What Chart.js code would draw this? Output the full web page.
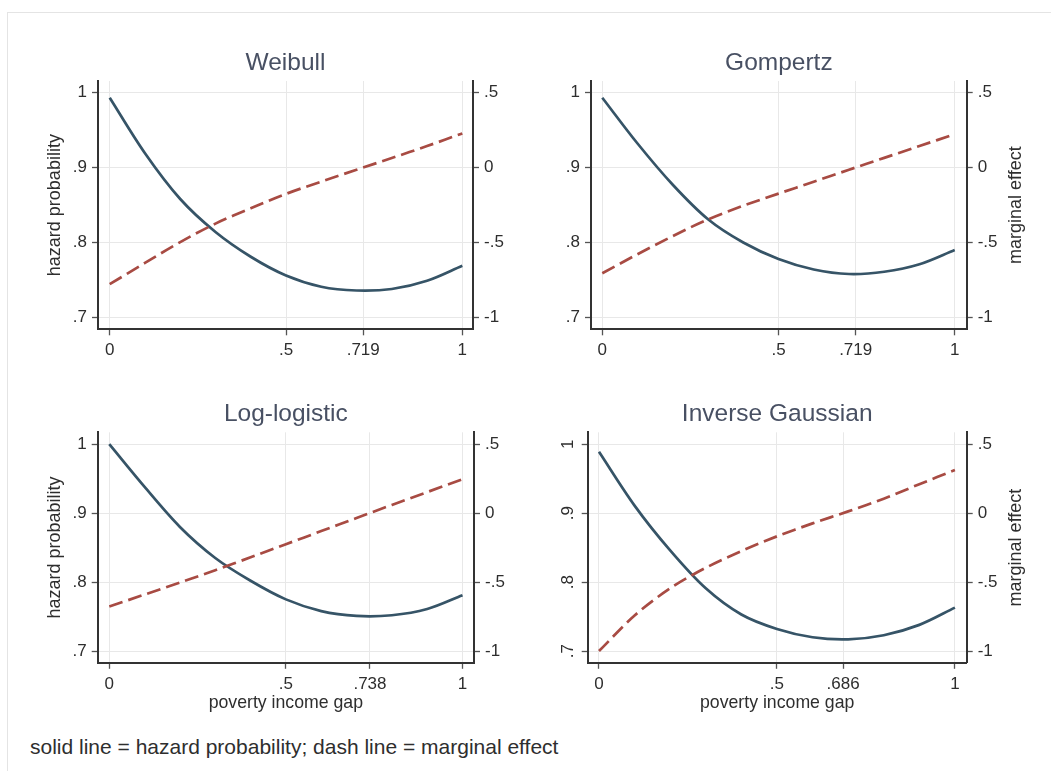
<!DOCTYPE html>
<html>
<head>
<meta charset="utf-8">
<script src="https://cdn.jsdelivr.net/npm/chart.js@4.4.1/dist/chart.umd.min.js"></script>
<style>
  html, body { margin: 0; padding: 0; background: #ffffff; width: 1051px; height: 771px; overflow: hidden;
    font-family: "Liberation Sans", Arial, sans-serif; }
  #frame { position: absolute; left: 7px; top: 12px; width: 1100px; height: 800px;
    border-left: 1px solid #e4e4e4; border-top: 1px solid #e4e4e4; }
  canvas { position: absolute; }
  #note { position: absolute; left: 30px; top: 735px; font-size: 21px; line-height: 24px; color: #2e2e2e; white-space: nowrap; }
</style>
</head>
<body>
<div id="frame"></div>
<canvas id="c1"></canvas>
<canvas id="c2"></canvas>
<canvas id="c3"></canvas>
<canvas id="c4"></canvas>
<div id="note">solid line = hazard probability; dash line = marginal effect</div>
<script>
// ---------------- data ----------------
const gap = [0, 0.1, 0.2, 0.3, 0.4, 0.5, 0.6, 0.7, 0.8, 0.9, 1];

const weibullHazard   = [0.993, 0.919, 0.858, 0.814, 0.781, 0.756, 0.741, 0.736, 0.738, 0.749, 0.769];
const weibullMarginal = [-0.778, -0.636, -0.497, -0.374, -0.272, -0.176, -0.094, -0.015, 0.063, 0.143, 0.227];

const gompertzHazard   = [0.993, 0.932, 0.877, 0.831, 0.800, 0.778, 0.764, 0.758, 0.761, 0.771, 0.790];
const gompertzMarginal = [-0.705, -0.578, -0.457, -0.346, -0.255, -0.174, -0.095, -0.015, 0.064, 0.143, 0.222];

const loglogHazard   = [1.000, 0.938, 0.880, 0.835, 0.802, 0.775, 0.758, 0.751, 0.752, 0.761, 0.781];
const loglogMarginal = [-0.677, -0.590, -0.503, -0.414, -0.320, -0.225, -0.130, -0.035, 0.060, 0.153, 0.246];

const invgaussHazard   = [0.989, 0.911, 0.846, 0.791, 0.753, 0.732, 0.720, 0.717, 0.723, 0.738, 0.763];
const invgaussMarginal = [-1.000, -0.742, -0.545, -0.396, -0.275, -0.168, -0.074, 0.013, 0.105, 0.210, 0.313];

const panelTitles = ['Weibull', 'Gompertz', 'Log-logistic', 'Inverse Gaussian'];

const weibullXTicks  = [0, 0.5, 0.719, 1];
const weibullXLabels = ['0', '.5', '.719', '1'];
const gompertzXTicks  = [0, 0.5, 0.719, 1];
const gompertzXLabels = ['0', '.5', '.719', '1'];
const loglogXTicks  = [0, 0.5, 0.738, 1];
const loglogXLabels = ['0', '.5', '.738', '1'];
const invgaussXTicks  = [0, 0.5, 0.686, 1];
const invgaussXLabels = ['0', '.5', '.686', '1'];

const hazardTicks  = [0.7, 0.8, 0.9, 1];
const hazardLabels = ['.7', '.8', '.9', '1'];
const marginalTicks  = [-1, -0.5, 0, 0.5];
const marginalLabels = ['-1', '-.5', '0', '.5'];

const xAxisTitle = 'poverty income gap';
const leftAxisTitle = 'hazard probability';
const rightAxisTitle = 'marginal effect';

// ---------------- styles ----------------
const FONT = '"Liberation Sans", Arial, sans-serif';
const HAZ_COLOR = '#365467';
const MAR_COLOR = '#a84b43';
const GRID = '#e8e8e8';
const AXIS = '#333333';
const TICKC = '#555555';
const TEXT = '#2e2e2e';
const TITLE_COLOR = '#485063';

const panels = [
  { id: 'c1', title: panelTitles[0], haz: weibullHazard, mar: weibullMarginal, xt: weibullXTicks, xl: weibullXLabels,
    left: 0, top: 20, w: 530, h: 355, yLW: 98, yRW: 57, xH: 45.7, tPadTop: 28.8, tPadBot: 2.8,
    xMin: -0.0332, xMax: 1.0303, yMin: 0.6843, yMax: 1.0153,
    leftTitle: true, rightTitle: false, xTitle: false, rotateLeft: false },
  { id: 'c2', title: panelTitles[1], haz: gompertzHazard, mar: gompertzMarginal, xt: gompertzXTicks, xl: gompertzXLabels,
    left: 530, top: 20, w: 521, h: 355, yLW: 61, yRW: 84.3, xH: 45.7, tPadTop: 28.8, tPadBot: 2.8,
    xMin: -0.032, xMax: 1.034, yMin: 0.6843, yMax: 1.0153,
    leftTitle: false, rightTitle: true, xTitle: false, rotateLeft: false },
  { id: 'c3', title: panelTitles[2], haz: loglogHazard, mar: loglogMarginal, xt: loglogXTicks, xl: loglogXLabels,
    left: 0, top: 375, w: 530, h: 350, yLW: 97.7, yRW: 56, xH: 62.2, tPadTop: 24.8, tPadBot: 3.1,
    xMin: -0.0328, xMax: 1.0325, yMin: 0.683, yMax: 1.0173,
    leftTitle: true, rightTitle: false, xTitle: true, rotateLeft: false },
  { id: 'c4', title: panelTitles[3], haz: invgaussHazard, mar: invgaussMarginal, xt: invgaussXTicks, xl: invgaussXLabels,
    left: 530, top: 375, w: 521, h: 350, yLW: 57.7, yRW: 84.3, xH: 62.2, tPadTop: 24.8, tPadBot: 3.1,
    xMin: -0.0317, xMax: 1.0331, yMin: 0.683, yMax: 1.0173,
    leftTitle: false, rightTitle: true, xTitle: true, rotateLeft: true }
];

function toPoints(ys) { return gap.map((x, i) => ({ x: x, y: ys[i] })); }
function fixedTicks(vals) { return function (scale) { scale.ticks = vals.map(v => ({ value: v })); }; }

const rightTitlePlugin = {
  id: 'rightTitle',
  afterDraw(chart, args, opts) {
    if (!opts || !opts.display) return;
    const s = chart.scales.yR;
    const ctx = chart.ctx;
    ctx.save();
    ctx.translate(s.left + opts.offset, (s.top + s.bottom) / 2);
    ctx.rotate(-Math.PI / 2);
    ctx.font = '18px ' + FONT;
    ctx.fillStyle = TEXT;
    ctx.textAlign = 'center';
    ctx.textBaseline = 'middle';
    ctx.fillText(opts.text, 0, 0);
    ctx.restore();
  }
};

panels.forEach(p => {
  const cv = document.getElementById(p.id);
  cv.width = p.w; cv.height = p.h;
  cv.style.left = p.left + 'px'; cv.style.top = p.top + 'px';
  cv.style.width = p.w + 'px'; cv.style.height = p.h + 'px';
  const tickFont = { family: FONT, size: 17 };
  const mDiff = 5; // right-axis units per left-axis unit
  new Chart(cv, {
    type: 'line',
    data: {
      datasets: [
        { data: toPoints(p.mar), yAxisID: 'yR', borderColor: MAR_COLOR, borderWidth: 2.7, borderDash: [14, 6],
          pointRadius: 0, tension: 0.33, fill: false },
        { data: toPoints(p.haz), yAxisID: 'y', borderColor: HAZ_COLOR, borderWidth: 2.7,
          pointRadius: 0, tension: 0.33, fill: false }
      ]
    },
    plugins: [rightTitlePlugin],
    options: {
      responsive: false, animation: false, devicePixelRatio: 1,
      layout: { padding: 0 },
      plugins: {
        legend: { display: false }, tooltip: { enabled: false },
        title: { display: true, text: p.title, fullSize: false, color: TITLE_COLOR,
          font: { family: FONT, size: 24.5, weight: 'normal' },
          padding: { top: p.tPadTop, bottom: p.tPadBot } },
        rightTitle: { display: p.rightTitle, text: rightAxisTitle, offset: 49 }
      },
      scales: {
        x: {
          type: 'linear', position: 'bottom', min: p.xMin, max: p.xMax,
          afterBuildTicks: fixedTicks(p.xt),
          afterFit: s => { s.height = p.xH; },
          ticks: { callback: (v, i) => p.xl[i], color: TEXT, font: tickFont, padding: 5, maxRotation: 0, autoSkip: false },
          grid: { color: GRID, lineWidth: 1, tickColor: TICKC, tickLength: 6, tickWidth: 1.3 },
          border: { display: true, color: AXIS, width: 2 },
          title: { display: p.xTitle, text: xAxisTitle, color: TEXT, font: { family: FONT, size: 17.7 },
            padding: { top: 0, bottom: 11.1 } }
        },
        y: {
          type: 'linear', position: 'left', min: p.yMin, max: p.yMax,
          afterBuildTicks: fixedTicks(hazardTicks),
          afterFit: s => { s.width = p.yLW; },
          ticks: p.rotateLeft
            ? { callback: (v, i) => hazardLabels[i], color: TEXT, font: tickFont, padding: 6.3, minRotation: 90, maxRotation: 90, crossAlign: 'center', autoSkip: false }
            : { callback: (v, i) => hazardLabels[i], color: TEXT, font: tickFont, padding: 5, autoSkip: false },
          grid: { color: GRID, lineWidth: 1, tickColor: TICKC, tickLength: 6, tickWidth: 1.3 },
          border: { display: true, color: AXIS, width: 2 },
          title: { display: p.leftTitle, text: leftAxisTitle, color: TEXT, font: { family: FONT, size: 18 },
            padding: { top: 44.2, bottom: 0 } }
        },
        yR: {
          type: 'linear', position: 'right',
          min: (p.yMin - 0.9) * mDiff, max: (p.yMax - 0.9) * mDiff,
          afterBuildTicks: fixedTicks(marginalTicks),
          afterFit: s => { s.width = p.yRW; },
          ticks: { callback: (v, i) => marginalLabels[i], color: TEXT, font: tickFont, padding: 5, autoSkip: false },
          grid: { drawOnChartArea: false, tickColor: TICKC, tickLength: 6, tickWidth: 1.3 },
          border: { display: true, color: AXIS, width: 2 }
        }
      }
    }
  });
});
</script>
</body>
</html>
